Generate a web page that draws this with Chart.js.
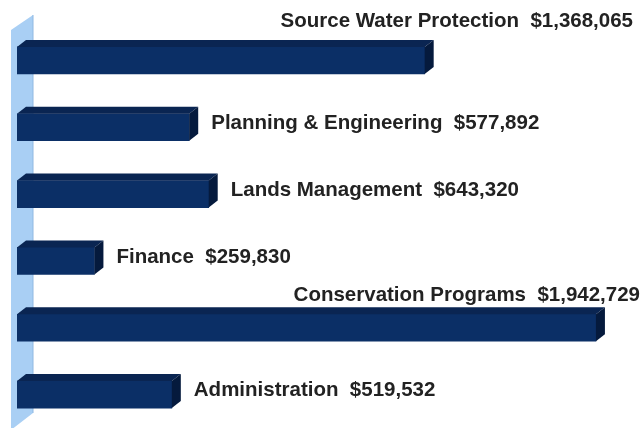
<!DOCTYPE html>
<html>
<head>
<meta charset="utf-8">
<script src="https://cdn.jsdelivr.net/npm/chart.js@4"></script>
<style>
  html, body { margin: 0; padding: 0; background: #ffffff; overflow: hidden; }
  #wrap { width: 643px; height: 428px; position: relative; }
</style>
</head>
<body>
<div id="wrap"><canvas id="c"></canvas></div>
<script>
const categories = [
  "Source Water Protection",
  "Planning & Engineering",
  "Lands Management",
  "Finance",
  "Conservation Programs",
  "Administration"
];
const budgetValues = [1368065, 577892, 643320, 259830, 1942729, 519532];
const valueLabels = ["$1,368,065", "$577,892", "$643,320", "$259,830", "$1,942,729", "$519,532"];

const DX = 9, DY = 7;

const bar3d = {
  id: 'bar3d',
  beforeDatasetsDraw(chart) {
    const ctx = chart.ctx, a = chart.chartArea;
    ctx.save();
    ctx.fillStyle = '#a9cff4';
    ctx.beginPath();
    ctx.moveTo(a.left - 6, a.top + 3);
    ctx.lineTo(a.left + 16, a.top - 12);
    ctx.lineTo(a.left + 16, a.bottom - 15);
    ctx.lineTo(a.left - 6, a.bottom + 2);
    ctx.closePath();
    ctx.fill();
    ctx.strokeStyle = '#8fb8e2';
    ctx.lineWidth = 1;
    ctx.beginPath();
    ctx.moveTo(a.left + 16, a.top - 12);
    ctx.lineTo(a.left + 16, a.bottom - 15);
    ctx.stroke();
    ctx.restore();
  },
  afterDatasetsDraw(chart) {
    const ctx = chart.ctx, a = chart.chartArea;
    const meta = chart.getDatasetMeta(0);
    ctx.save();
    meta.data.forEach((bar, i) => {
      const h = bar.height, top = bar.y - h / 2, bottom = bar.y + h / 2;
      const x0 = bar.base, x1 = bar.x;
      ctx.fillStyle = '#0a2552';
      ctx.beginPath();
      ctx.moveTo(x0, top);
      ctx.lineTo(x0 + DX, top - DY);
      ctx.lineTo(x1 + DX, top - DY);
      ctx.lineTo(x1, top);
      ctx.closePath();
      ctx.fill();
      ctx.fillStyle = '#051a3d';
      ctx.beginPath();
      ctx.moveTo(x1, top);
      ctx.lineTo(x1 + DX, top - DY);
      ctx.lineTo(x1 + DX, bottom - DY);
      ctx.lineTo(x1, bottom);
      ctx.closePath();
      ctx.fill();

      ctx.font = 'bold 20.5px "Liberation Sans", Arial, sans-serif';
      ctx.fillStyle = '#222222';
      ctx.textBaseline = 'middle';
      const txt = categories[i] + '  ' + valueLabels[i];
      if (i === 0 || i === 4) {
        ctx.textAlign = 'right';
        const rx = i === 0 ? a.right + 20 : a.right + 27;
        const ty = i === 0 ? bar.y - 39 : bar.y - 32;
        ctx.fillText(txt, rx, ty);
      } else {
        ctx.textAlign = 'left';
        ctx.fillText(txt, x1 + DX + 13, bar.y - 4);
      }
    });
    ctx.restore();
  }
};

new Chart(document.getElementById('c'), {
  type: 'bar',
  data: {
    labels: categories,
    datasets: [{
      data: budgetValues,
      backgroundColor: '#0b2f66',
      borderWidth: 0,
      barThickness: 27
    }]
  },
  options: {
    indexAxis: 'y',
    responsive: true,
    maintainAspectRatio: false,
    animation: false,
    layout: { padding: { left: 17, right: 30, top: 27, bottom: 0 } },
    plugins: { legend: { display: false }, tooltip: { enabled: false } },
    scales: {
      x: { display: false, min: 0, max: 2000000 },
      y: { display: false }
    }
  },
  plugins: [bar3d]
});
</script>
</body>
</html>
